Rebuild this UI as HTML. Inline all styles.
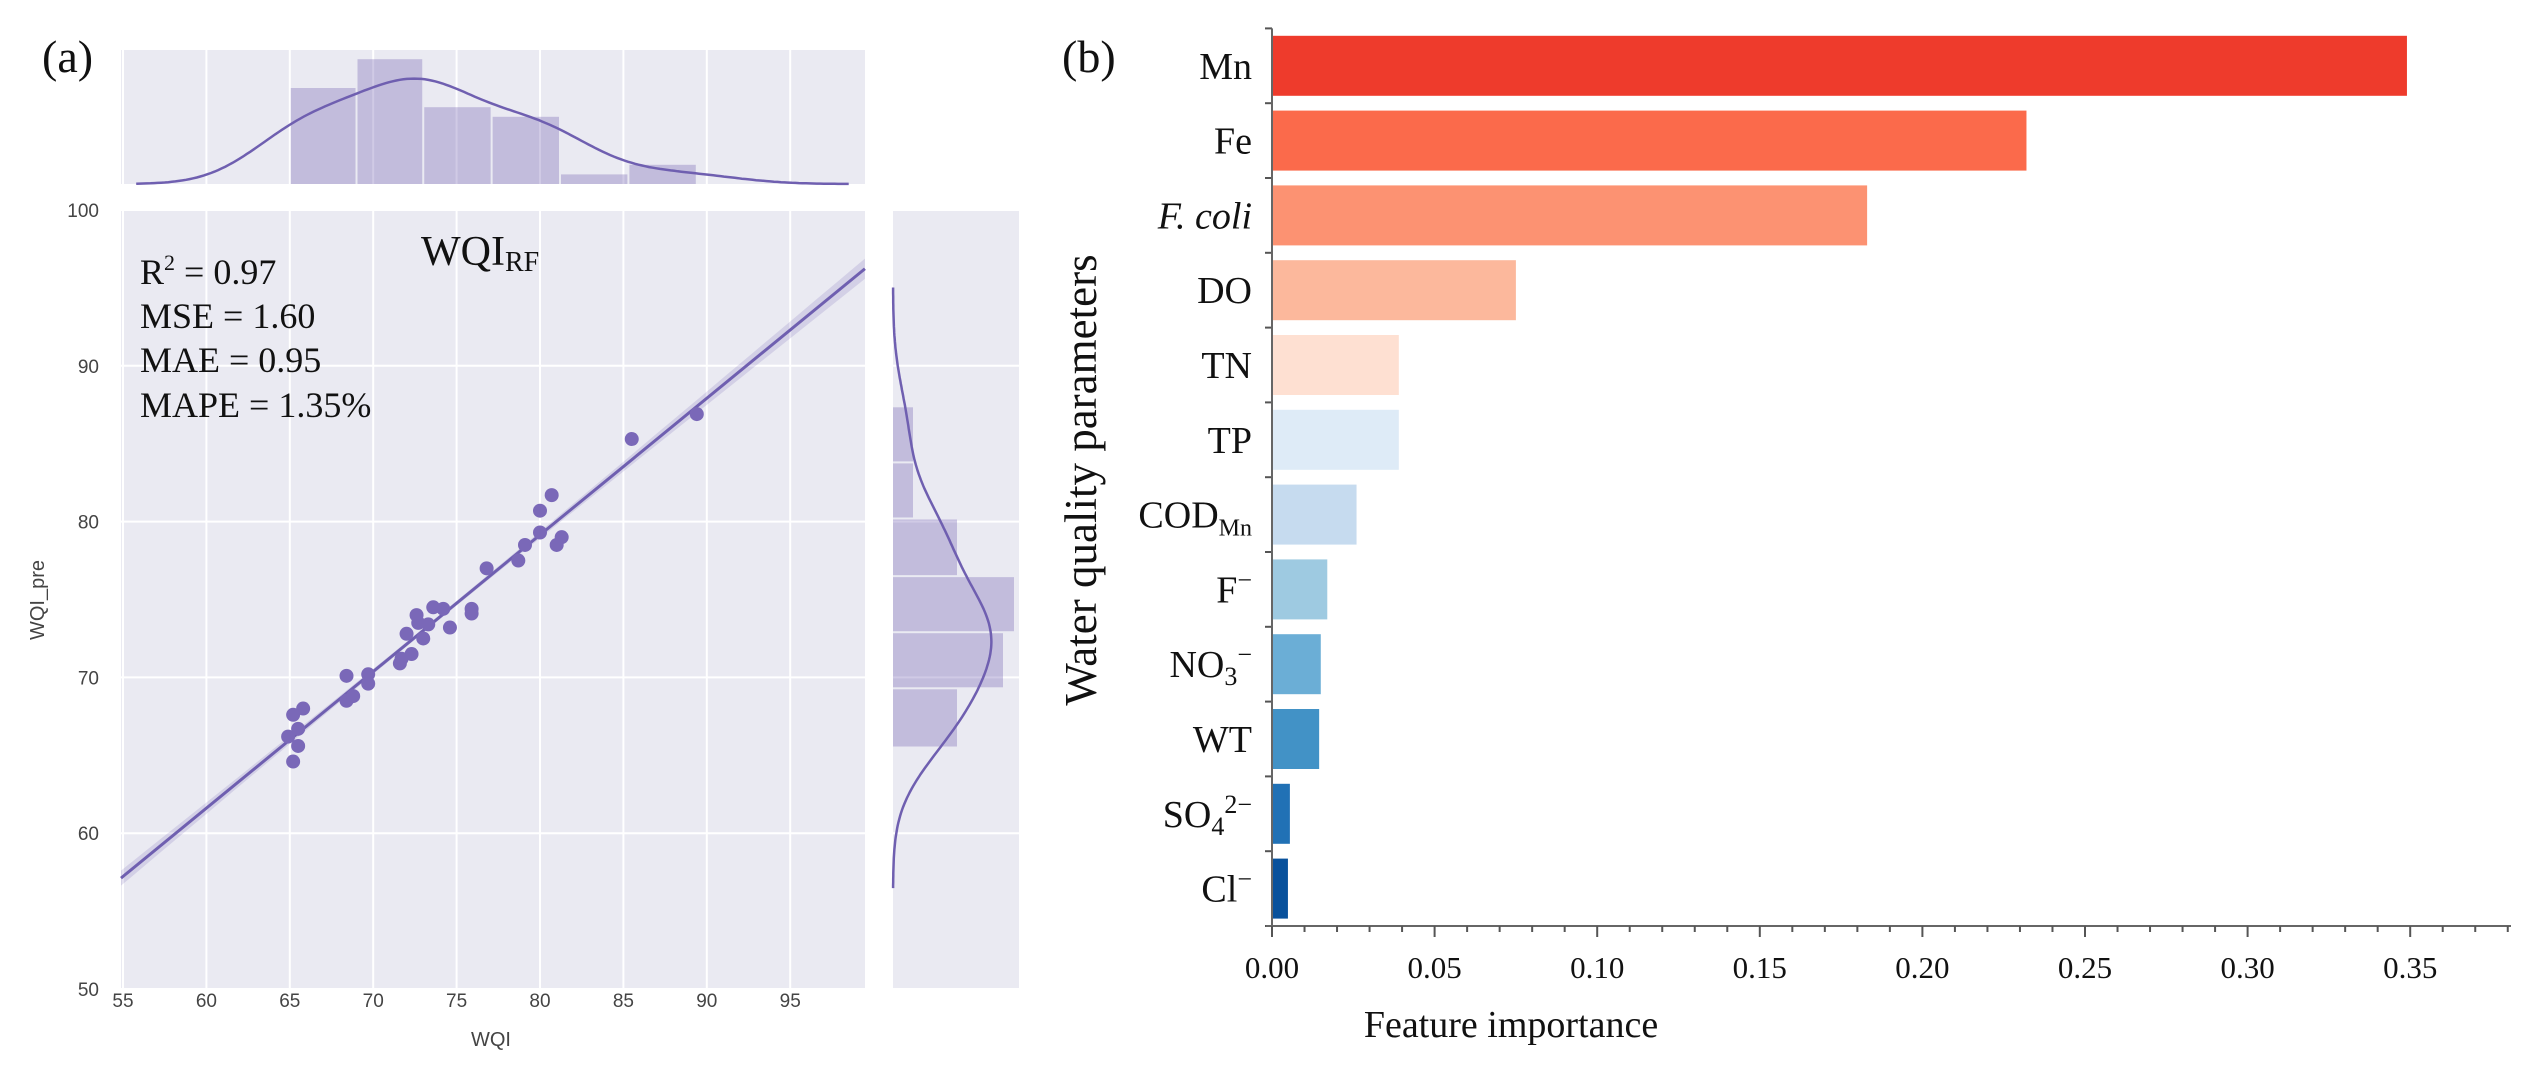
<!DOCTYPE html>
<html><head><meta charset="utf-8"><style>
html,body{margin:0;padding:0;background:#fff;}
svg{display:block;}
text{font-family:"Liberation Serif",serif;}
.sans{font-family:"Liberation Sans","DejaVu Sans",sans-serif;}
</style></head><body>
<svg id="fig" width="2523" height="1080" viewBox="0 0 2523 1080" xmlns="http://www.w3.org/2000/svg">
<g id="pa"></g>
<g id="pb"></g>
</svg>
<script>
// ---------- Panel (a) data ----------
const wqiObs = [89.4,85.5,80.7,80.0,80.0,79.1,78.7,81.3,81.0,76.8,75.9,75.9,74.6,74.2,73.6,72.6,72.7,73.0,73.3,72.0,72.3,71.6,71.7,69.7,69.7,68.4,68.4,68.8,65.8,65.2,64.9,65.5,65.2,65.5];
const wqiPred = [86.9,85.3,81.7,80.7,79.3,78.5,77.5,79.0,78.5,77.0,74.4,74.1,73.2,74.4,74.5,74.0,73.5,72.5,73.4,72.8,71.5,70.9,71.2,70.2,69.6,70.1,68.5,68.8,68.0,67.6,66.2,65.6,64.6,66.7];
const topBinEdges = [65.0,69.0,73.0,77.1,81.2,85.3,89.4];
const topBinCounts = [10,13,8,7,1,2];
const rightBinEdges = [65.5,69.3,72.9,76.5,80.2,83.8,87.4];
const rightBinCounts = [6.4,11,12.1,6.4,2,2];
const xTicks = [55,60,65,70,75,80,85,90,95];
const yTicks = [50,60,70,80,90,100];
// ---------- Panel (b) data ----------
const params = ["Mn","Fe","F. coli","DO","TN","TP","CODMn","F-","NO3-","WT","SO42-","Cl-"];
const importance = [0.349,0.232,0.183,0.075,0.039,0.039,0.026,0.017,0.015,0.0145,0.0055,0.0049];
const barColors = ["#ee3b2c","#fb6a4b","#fc9272","#fcb89c","#fee0d2","#deebf7","#c6dbef","#9ecae1","#6baed6","#4292c6","#2171b5","#08519c"];
const impTicks = [0,0.05,0.10,0.15,0.20,0.25,0.30,0.35];
const impTickLabels = ["0.00","0.05","0.10","0.15","0.20","0.25","0.30","0.35"];

const NS="http://www.w3.org/2000/svg";
function mk(parent,tag,attrs,txt){const e=document.createElementNS(NS,tag);for(const k in attrs)e.setAttribute(k,attrs[k]);if(txt!==undefined)e.textContent=txt;parent.appendChild(e);return e;}

// ---------- Panel (a) ----------
const pa=document.getElementById('pa');
const xs=v=>123+(v-55)*16.68;
const ys=v=>210+(100-v)*15.58;
const MX0=121,MX1=865,MY0=210,MY1=988;
const TY0=50,TY1=184, RX0=893,RX1=1019;
const purple="#6f5fb0";

let r;
r=mk(pa,'rect',{x:MX0,y:MY0,width:MX1-MX0,height:MY1-MY0,fill:'#eaeaf2'});

r=mk(pa,'rect',{x:MX0,y:TY0,width:MX1-MX0,height:TY1-TY0,fill:'#eaeaf2'});

r=mk(pa,'rect',{x:RX0,y:MY0,width:RX1-RX0,height:MY1-MY0,fill:'#eaeaf2'});


xTicks.forEach(t=>{
  const g1=mk(pa,'line',{x1:xs(t),x2:xs(t),y1:MY0,y2:MY1,stroke:'#fff','stroke-width':2});
  
  const g2=mk(pa,'line',{x1:xs(t),x2:xs(t),y1:TY0,y2:TY1,stroke:'#fff','stroke-width':2});
  
  const tl=mk(pa,'text',{x:xs(t),y:1007,'text-anchor':'middle','font-size':19,fill:'#444',class:'sans'},String(t));
  
});
yTicks.forEach(t=>{
  const g1=mk(pa,'line',{x1:MX0,x2:MX1,y1:ys(t),y2:ys(t),stroke:'#fff','stroke-width':2});
  
  const g2=mk(pa,'line',{x1:RX0,x2:RX1,y1:ys(t),y2:ys(t),stroke:'#fff','stroke-width':2});
  
  const tl=mk(pa,'text',{x:99,y:ys(t)+7,'text-anchor':'end','font-size':19,fill:'#444',class:'sans'},String(t));
  
});

const topPx=9.6;
for(let i=0;i<topBinCounts.length;i++){
  const x0=xs(topBinEdges[i]),x1=xs(topBinEdges[i+1]),h=topBinCounts[i]*topPx;
  const b=mk(pa,'rect',{x:x0+1,y:TY1-h,width:x1-x0-2,height:h,fill:purple,'fill-opacity':0.33});
  
}
const rPx=10;
for(let i=0;i<rightBinCounts.length;i++){
  const y0=ys(rightBinEdges[i+1]),y1=ys(rightBinEdges[i]),w=rightBinCounts[i]*rPx;
  const b=mk(pa,'rect',{x:RX0,y:y0+1,width:w,height:y1-y0-2,fill:purple,'fill-opacity':0.33});
  
}
function stats(a){const m=a.reduce((s,v)=>s+v,0)/a.length;const sd=Math.sqrt(a.reduce((s,v)=>s+(v-m)*(v-m),0)/(a.length-1));return [m,sd];}
function kde(a,bw,x){let s=0;a.forEach(v=>{const z=(x-v)/bw;s+=Math.exp(-0.5*z*z);});return s/(a.length*bw*Math.sqrt(2*Math.PI));}
(function(){
  const [mx,sx]=stats(wqiObs);const bw=sx*Math.pow(wqiObs.length,-0.2);
  const lo=Math.min(...wqiObs)-3*bw,hi=Math.max(...wqiObs)+3*bw;
  const sum=topBinCounts.reduce((s,v)=>s+v,0),bwid=(topBinEdges[6]-topBinEdges[0])/6;
  let d='';
  for(let i=0;i<=200;i++){const x=lo+(hi-lo)*i/200;const y=TY1-1.12*kde(wqiObs,bw,x)*sum*bwid*topPx;d+=(i?'L':'M')+xs(x).toFixed(1)+' '+y.toFixed(1);}
  const p=mk(pa,'path',{d:d,fill:'none',stroke:purple,'stroke-width':2.5});
  
})();
(function(){
  const [my,sy]=stats(wqiPred);const bw=sy*Math.pow(wqiPred.length,-0.2);
  const lo=Math.min(...wqiPred)-3*bw,hi=Math.max(...wqiPred)+3*bw;
  const sum=rightBinCounts.reduce((s,v)=>s+v,0),bwid=(rightBinEdges[6]-rightBinEdges[0])/6;
  let d='';
  for(let i=0;i<=200;i++){const y=lo+(hi-lo)*i/200;const x=RX0+kde(wqiPred,bw,y)*sum*bwid*rPx;d+=(i?'L':'M')+x.toFixed(1)+' '+ys(y).toFixed(1);}
  const p=mk(pa,'path',{d:d,fill:'none',stroke:purple,'stroke-width':2.5});
  
})();

(function(){
  const n=wqiObs.length;const [mx]=stats(wqiObs);const [my]=stats(wqiPred);
  let sxy=0,sxx=0;for(let i=0;i<n;i++){sxy+=(wqiObs[i]-mx)*(wqiPred[i]-my);sxx+=(wqiObs[i]-mx)**2;}
  const b=sxy/sxx,a=my-b*mx;
  let sse=0;for(let i=0;i<n;i++){sse+=(wqiPred[i]-a-b*wqiObs[i])**2;}
  const se=Math.sqrt(sse/(n-2));
  const xa=54.88,xb=99.48;
  let up='',dn='';const pts=[];
  for(let i=0;i<=60;i++){const x=xa+(xb-xa)*i/60;const h=0.85*se*Math.sqrt(1/n+(x-mx)**2/sxx);pts.push([x,a+b*x,h]);}
  pts.forEach((p,i)=>{up+=(i?'L':'M')+xs(p[0]).toFixed(1)+' '+ys(p[1]+p[2]).toFixed(1);});
  pts.slice().reverse().forEach(p=>{dn+='L'+xs(p[0]).toFixed(1)+' '+ys(p[1]-p[2]).toFixed(1);});
  const band=mk(pa,'path',{d:up+dn+'Z',fill:purple,'fill-opacity':0.18});
  
  const ln=mk(pa,'line',{x1:xs(xa),y1:ys(a+b*xa),x2:xs(xb),y2:ys(a+b*xb),stroke:purple,'stroke-width':3});
  
})();
for(let i=0;i<wqiObs.length;i++){
  const c=mk(pa,'circle',{cx:xs(wqiObs[i]),cy:ys(wqiPred[i]),r:7,fill:'#7a68b8'});
  
}

let t;
t=mk(pa,'text',{x:42,y:72,'font-size':46,fill:'#111'},'(a)');

t=mk(pa,'text',{x:491,y:1046,'text-anchor':'middle','font-size':20,fill:'#444',class:'sans'},'WQI');

t=mk(pa,'text',{x:0,y:0,'text-anchor':'middle','font-size':20,fill:'#444',class:'sans',transform:'translate(44,600) rotate(-90)'},'WQI_pre');

t=mk(pa,'text',{x:421,y:265,'font-size':42,fill:'#111'});

mk(t,'tspan',{},'WQI');mk(t,'tspan',{'font-size':28,dy:6},'RF');
const statLines=['R2 = 0.97','MSE = 1.60','MAE = 0.95','MAPE = 1.35%'];
[284,328,372,417].forEach((y,i)=>{
  const e=mk(pa,'text',{x:140,y:y,'font-size':36,fill:'#111'});
  
  if(i===0){mk(e,'tspan',{},'R');mk(e,'tspan',{'font-size':22,dy:-14},'2');mk(e,'tspan',{dy:14},' = 0.97');}
  else e.textContent=statLines[i];
});

// ---------- Panel (b) ----------
const pb=document.getElementById('pb');
const AX=1272, AXY=926, TOP=28.4, STEP=(AXY-TOP)/params.length;
const xb=v=>AX+v*3252;
params.forEach((p,i)=>{
  const yc=TOP+STEP*(i+0.5);
  const bar=mk(pb,'rect',{x:AX+1,y:yc-30,width:xb(importance[i])-AX-1,height:60,fill:barColors[i]});
  
  const e=mk(pb,'text',{x:1252,y:yc+13,'text-anchor':'end','font-size':38,fill:'#111'});
  
  if(p==='F. coli'){e.setAttribute('font-style','italic');e.textContent='F. coli';}
  else if(p==='CODMn'){mk(e,'tspan',{},'COD');mk(e,'tspan',{'font-size':24,dy:8},'Mn');}
  else if(p==='F-'){mk(e,'tspan',{},'F');mk(e,'tspan',{'font-size':26,dy:-14},'\u2212');}
  else if(p==='Cl-'){mk(e,'tspan',{},'Cl');mk(e,'tspan',{'font-size':26,dy:-14},'\u2212');}
  else if(p==='NO3-'){mk(e,'tspan',{},'NO');mk(e,'tspan',{'font-size':26,dy:8},'3');mk(e,'tspan',{'font-size':26,dy:-22},'\u2212');}
  else if(p==='SO42-'){mk(e,'tspan',{},'SO');mk(e,'tspan',{'font-size':26,dy:8},'4');mk(e,'tspan',{'font-size':26,dy:-22},'2\u2212');}
  else e.textContent=p;
});
for(let i=0;i<=params.length;i++){
  const y=TOP+STEP*i;
  const tk=mk(pb,'line',{x1:AX-7,x2:AX,y1:y,y2:y,stroke:'#555','stroke-width':2});
  
}
let ax=mk(pb,'line',{x1:AX,x2:AX,y1:TOP,y2:AXY,stroke:'#666','stroke-width':2});

ax=mk(pb,'line',{x1:AX-6,x2:2511,y1:AXY,y2:AXY,stroke:'#666','stroke-width':2});

for(let k=0;k<=38;k++){
  const v=k*0.01,x=xb(v),major=(k%5===0);
  const tk=mk(pb,'line',{x1:x,x2:x,y1:AXY,y2:AXY+(major?11:6),stroke:'#555','stroke-width':2});
  
}
impTicks.forEach((v,i)=>{
  const e=mk(pb,'text',{x:xb(v),y:978,'text-anchor':'middle','font-size':31,fill:'#111'},impTickLabels[i]);
  
});
t=mk(pb,'text',{x:1511,y:1037,'text-anchor':'middle','font-size':38,fill:'#111'},'Feature importance');

t=mk(pb,'text',{x:0,y:0,'text-anchor':'middle','font-size':45,fill:'#111',transform:'translate(1096,480) rotate(-90)'},'Water quality parameters');

t=mk(pb,'text',{x:1062,y:72,'font-size':46,fill:'#111'},'(b)');

</script>
</body></html>
